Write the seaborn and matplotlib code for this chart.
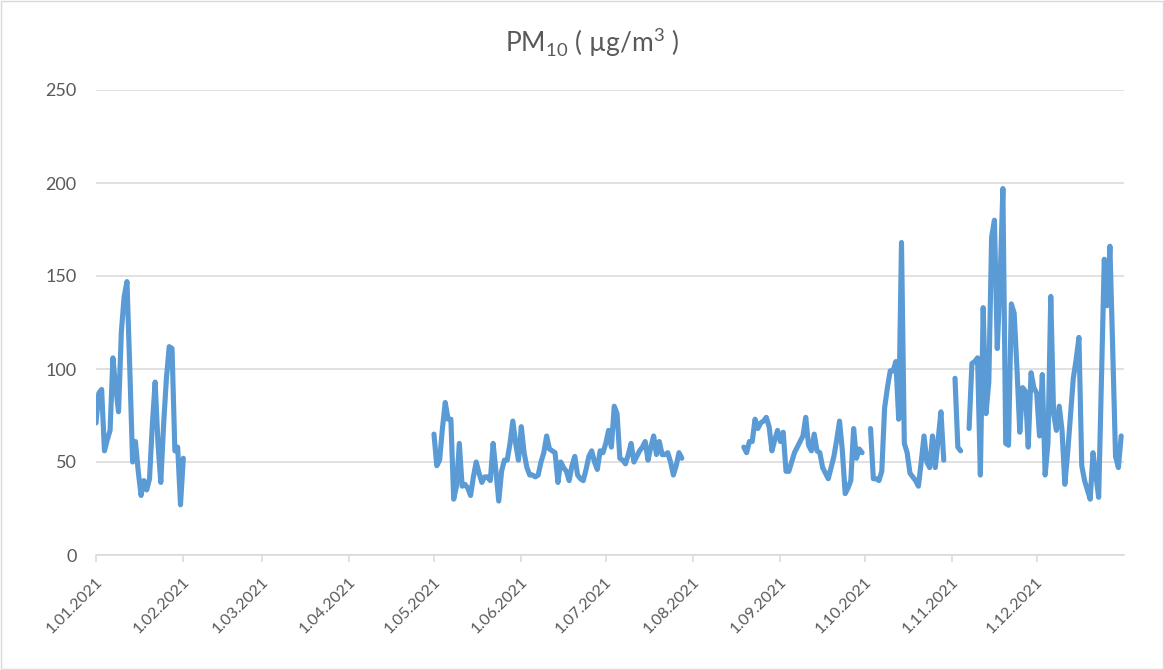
import numpy as np
import pandas as pd
import matplotlib
matplotlib.use("Agg")
import matplotlib.pyplot as plt
import matplotlib.transforms as mtransforms
import seaborn as sns
from matplotlib.patches import Rectangle

# ---- data (daily PM10, µg/m³; gaps = no measurement) ----
seg1_start = "2021-01-01"
seg1_values = [71, 87, 89, 56, 62, 67, 106, 90, 77, 120, 139, 147, 100, 50, 61, 45,
               32, 40, 35, 41, 70, 93, 60, 39, 70, 95, 112, 111, 56, 58, 27, 52]

seg2_start = "2021-05-01"
seg2_values = [65, 48, 51, 68, 82, 73, 73, 30, 37, 60, 37, 38, 36, 32, 42, 50,
               44, 39, 42, 42, 40, 60, 45, 29, 45, 51, 51, 60, 72, 60, 51, 69,
               55, 47, 43, 43, 42, 43, 50, 55, 64, 57, 56, 55, 39, 50, 47, 45,
               40, 48, 53, 43, 41, 40, 46, 53, 56, 50, 46, 56, 55, 60, 67, 58,
               80, 76, 52, 51, 49, 54, 60, 50, 53, 56, 58, 61, 51, 58, 64, 54,
               61, 54, 54, 55, 50, 43, 48, 55, 52]

seg3_start = "2021-08-19"
seg3_values = [58, 55, 61, 61, 73, 68, 71, 72, 74, 69, 56, 62, 67, 61, 66, 45,
               45, 50, 55, 58, 61, 64, 74, 59, 56, 65, 56, 55, 47, 44, 41, 47,
               53, 62, 72, 56, 33, 36, 40, 68, 52, 57, 55]

seg4_start = "2021-10-03"
seg4_values = [68, 41, 41, 40, 45, 79, 90, 99, 99, 104, 73, 168, 60, 55, 44, 42,
               40, 37, 50, 64, 50, 47, 64, 47, 62, 77, 51]

seg5_start = "2021-11-02"
seg5_values = [95, 58, 56]

seg6_start = "2021-11-07"
seg6_values = [68, 103, 104, 106, 43, 133, 76, 93, 171, 180, 111, 147, 197, 60, 59, 135,
               130, 100, 66, 90, 88, 58, 98, 90, 87, 64, 97, 43, 60, 139, 76, 67,
               80, 67, 38, 55, 75, 95, 105, 117, 48, 40, 35, 30, 55, 43, 31, 95,
               159, 134, 166, 110, 53, 47, 64]

tick_labels = ["1.01.2021", "1.02.2021", "1.03.2021", "1.04.2021", "1.05.2021",
               "1.06.2021", "1.07.2021", "1.08.2021", "1.09.2021", "1.10.2021",
               "1.11.2021", "1.12.2021"]
y_ticks = [0, 50, 100, 150, 200, 250]

segments = [(seg1_start, seg1_values), (seg2_start, seg2_values),
            (seg3_start, seg3_values), (seg4_start, seg4_values),
            (seg5_start, seg5_values), (seg6_start, seg6_values)]
frames = []
for i, (start, vals) in enumerate(segments):
    frames.append(pd.DataFrame({
        "date": pd.date_range(start, periods=len(vals), freq="D"),
        "pm10": vals,
        "segment": i,
    }))
df = pd.concat(frames, ignore_index=True)

# ---- style ----
sns.set_theme(style="white")
plt.rcParams["font.family"] = ["Lato", "DejaVu Sans"]
plt.rcParams["mathtext.fontset"] = "custom"
plt.rcParams["mathtext.rm"] = "Lato"

W, H = 1164, 670
fig = plt.figure(figsize=(W / 100, H / 100), dpi=100)
fig.patch.set_facecolor("white")
ax = fig.add_axes([96 / W, 1 - 555 / H, (1124 - 96) / W, (555 - 90) / H])

sns.lineplot(data=df, x="date", y="pm10", units="segment", estimator=None,
             color="#5B9BD5", linewidth=3.7, ax=ax, legend=False,
             solid_joinstyle="round", solid_capstyle="round")

ax.set_ylim(0, 250)
ax.set_xlim(pd.Timestamp("2021-01-01"), pd.Timestamp("2022-01-01"))
ax.set_yticks(y_ticks)
ax.set_yticklabels([str(v) for v in y_ticks])
month_starts = pd.date_range("2021-01-01", periods=12, freq="MS")
ax.set_xticks(month_starts)
ax.set_xticklabels(tick_labels, rotation=45, ha="right", va="center",
                   rotation_mode="anchor")
ax.set_xlabel("")
ax.set_ylabel("")

ax.yaxis.grid(True, color="#D9D9D9", linewidth=1.1)
ax.xaxis.grid(False)
ax.set_axisbelow(True)
for s in ["left", "right", "top"]:
    ax.spines[s].set_visible(False)
ax.spines["bottom"].set_color("#D9D9D9")
ax.spines["bottom"].set_linewidth(1.1)

ax.tick_params(axis="x", length=5, width=1.1, color="#D9D9D9", direction="out",
               labelsize=11.5, labelcolor="#595959", pad=13, bottom=True)
ax.tick_params(axis="y", length=0, labelsize=13, labelcolor="#595959", pad=14)

shift = mtransforms.ScaledTranslation(4 / 100, 0, fig.dpi_scale_trans)
for lbl in ax.get_xticklabels():
    lbl.set_transform(lbl.get_transform() + shift)

fig.text(592 / W, 1 - 42 / H, "PM$_\\mathregular{10}$ ( µg/m$^\\mathregular{3}$ )",
         ha="center", va="center", fontsize=19, color="#595959")

fig.patches.append(Rectangle((0.001, 0.001), 0.998, 0.997, transform=fig.transFigure,
                             fill=False, edgecolor="#D9D9D9", linewidth=1))

fig.savefig("out.png", dpi=100, facecolor="white")
